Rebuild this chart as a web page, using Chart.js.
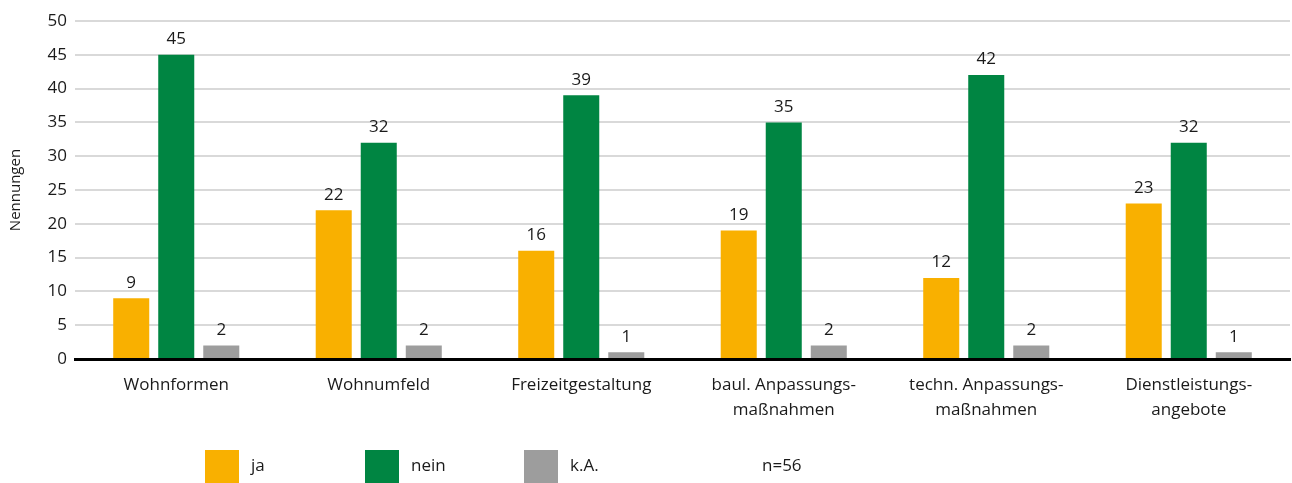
<!DOCTYPE html>
<html>
<head>
<meta charset="utf-8">
<script src="https://cdn.jsdelivr.net/npm/chart.js@4"></script>
<style>
html,body{margin:0;padding:0;background:#fff;}
#wrap{width:1292px;height:483px;position:relative;}
</style>
</head>
<body>
<div id="wrap"><canvas id="c" width="1292" height="483"></canvas></div>
<script>
const categories = [
  "Wohnformen",
  "Wohnumfeld",
  "Freizeitgestaltung",
  ["baul. Anpassungs-", "maßnahmen"],
  ["techn. Anpassungs-", "maßnahmen"],
  ["Dienstleistungs-", "angebote"]
];
const seriesNames = ["ja", "nein", "k.A."];
const jaValues = [9, 22, 16, 19, 12, 23];
const neinValues = [45, 32, 39, 35, 42, 32];
const kaValues = [2, 2, 1, 2, 2, 1];
const yTicks = [0, 5, 10, 15, 20, 25, 30, 35, 40, 45, 50];
const yTitle = "Nennungen";
const noteText = "n=56";

const colors = ["#F9B000", "#008542", "#9D9D9D"];
const FONT = "'Open Sans', 'Noto Sans', sans-serif";

const valueLabels = {
  id: 'valueLabels',
  afterDatasetsDraw(chart) {
    const ctx = chart.ctx;
    ctx.save();
    ctx.font = "17px " + FONT;
    ctx.fillStyle = "#1a1a1a";
    ctx.textAlign = "center";
    ctx.textBaseline = "bottom";
    chart.data.datasets.forEach((ds, i) => {
      const meta = chart.getDatasetMeta(i);
      meta.data.forEach((bar, j) => {
        ctx.fillText(String(ds.data[j]), bar.x, bar.y - 7);
      });
    });
    ctx.restore();
  }
};

const customLegend = {
  id: 'customLegend',
  afterDraw(chart) {
    const ctx = chart.ctx;
    ctx.save();
    ctx.font = "17px " + FONT;
    ctx.textBaseline = "middle";
    ctx.textAlign = "left";
    const xs = [205, 365, 524];
    const y = 450, w = 34, h = 33;
    chart.data.datasets.forEach((ds, i) => {
      ctx.fillStyle = ds.backgroundColor;
      ctx.fillRect(xs[i], y, w, h);
      ctx.fillStyle = "#1a1a1a";
      ctx.fillText(ds.label, xs[i] + w + 12, y + h / 2);
    });
    ctx.fillStyle = "#1a1a1a";
    ctx.fillText(noteText, 762, y + h / 2);
    ctx.restore();
  }
};

new Chart(document.getElementById('c'), {
  type: 'bar',
  data: {
    labels: categories,
    datasets: [
      { label: seriesNames[0], data: jaValues, backgroundColor: colors[0] },
      { label: seriesNames[1], data: neinValues, backgroundColor: colors[1] },
      { label: seriesNames[2], data: kaValues, backgroundColor: colors[2] }
    ]
  },
  options: {
    responsive: false,
    animation: false,
    devicePixelRatio: 1,
    layout: { padding: { top: 21, right: 2, left: 5, bottom: 64 } },
    datasets: { bar: { categoryPercentage: 0.667, barPercentage: 0.8 } },
    plugins: {
      legend: { display: false },
      tooltip: { enabled: false }
    },
    scales: {
      x: {
        afterFit(scale) { scale.height = 60; },
        grid: { display: false, drawTicks: false },
        border: { display: true, color: "#000", width: 3 },
        ticks: {
          color: "#1a1a1a",
          font: { family: FONT, size: 17, lineHeight: 1.45 },
          padding: 14,
          maxRotation: 0,
          autoSkip: false
        }
      },
      y: {
        min: 0, max: 50,
        afterFit(scale) { scale.width = 70; },
        afterBuildTicks(scale) { scale.ticks = yTicks.map(v => ({ value: v })); },
        grid: { color: "#D9D9D9", lineWidth: 2, drawTicks: false },
        border: { display: false },
        ticks: {
          color: "#1a1a1a",
          font: { family: FONT, size: 17 },
          padding: 8
        },
        title: {
          display: true,
          text: yTitle,
          color: "#1a1a1a",
          font: { family: FONT, size: 15 },
          padding: { top: 2, bottom: 4 }
        }
      }
    }
  },
  plugins: [valueLabels, customLegend]
});
</script>
</body>
</html>
